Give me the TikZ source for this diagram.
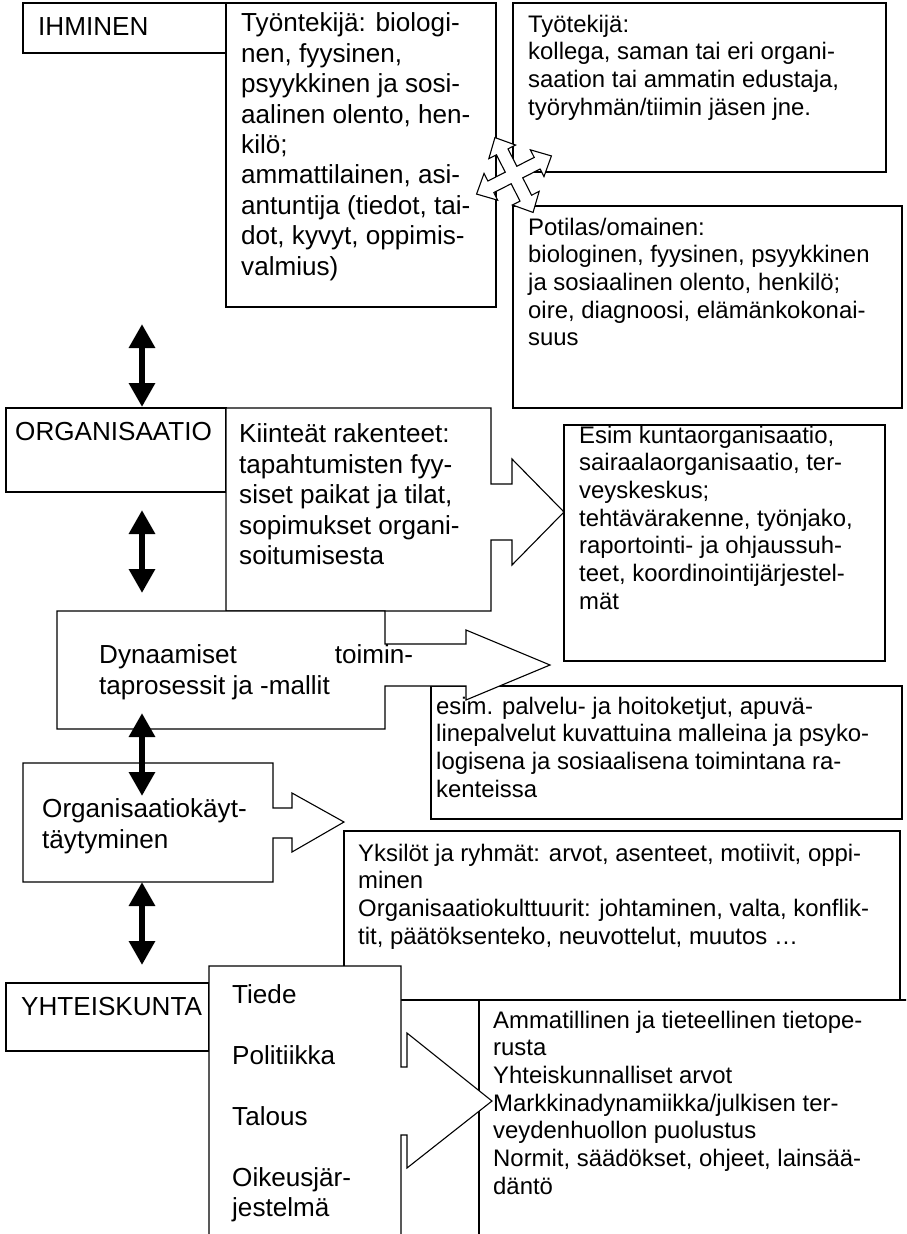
\documentclass[tikz,border=0pt]{standalone}
\usepackage{fontspec}
\setmainfont{Liberation Sans}
\usetikzlibrary{arrows.meta}

\begin{document}
\begin{tikzpicture}[x=1pt,y=-1pt,
  box/.style={draw=black,fill=white,line width=1.1pt,line join=miter},
  bigtext/.style={font=\fontsize{26.1}{30.4}\selectfont,anchor=north west,inner sep=0pt,align=left,execute at begin node=\strut},
  smalltext/.style={font=\fontsize{23.9}{27.7}\selectfont,anchor=north west,inner sep=0pt,align=left,execute at begin node=\strut},
  link/.style={line width=6pt,{Triangle[length=24pt,width=25pt]}-{Triangle[length=24pt,width=25pt]}}]
\fill[white] (0,0) rectangle (906,1234);
\useasboundingbox (0,0) rectangle (906,1234);
\clip (0,0) rectangle (906,1234);
\draw[box] (23,3) rectangle (226,53);
\draw[box] (226,3) rectangle (496,307);
\draw[box] (513,3) rectangle (886,172);
\draw[box] (513,206) rectangle (902,408);
\draw[box] (6,408) rectangle (226,492);
\draw[box] (564,425) rectangle (885,661);
\draw[box] (226,408) -- (491,408) -- (491,484) -- (512,484) -- (512,459) -- (564,512) -- (512,565) -- (512,540) -- (491,540) -- (491,611) -- (226,611) -- cycle;
\draw[box] (431,686) rectangle (902,819);
\draw[box] (57,611) -- (385,611) -- (385,644) -- (466,644) -- (466,630) -- (550,665) -- (466,700) -- (466,686) -- (385,686) -- (385,729) -- (57,729) -- cycle;
\draw[box] (344,831) rectangle (900,1000);
\draw[box] (23,763) -- (273,763) -- (273,808) -- (292,808) -- (292,793) -- (344,822) -- (292,852) -- (292,838) -- (273,838) -- (273,882) -- (23,882) -- cycle;
\draw[box] (479,1000) rectangle (912,1240);
\draw[box] (6,983) rectangle (209,1051);
\draw[box] (209,966) -- (401,966) -- (401,1067) -- (407,1067) -- (407,1033) -- (492,1101) -- (407,1168) -- (407,1135) -- (401,1135) -- (401,1240) -- (209,1240) -- cycle;
\coordinate (ihmA) at (142,324);
\coordinate (orgA) at (142,407);
\coordinate (orgB) at (142,510);
\coordinate (dynA) at (142,593);
\coordinate (dynB) at (142,713);
\coordinate (okA) at (142,796);
\coordinate (okB) at (142,882);
\coordinate (yhtA) at (142,965);
\draw[link] (ihmA) -- (orgA);
\draw[link] (orgB) -- (dynA);
\draw[link] (dynB) -- (okA);
\draw[link] (okB) -- (yhtA);
\draw[box,shift={(514,175)},rotate=27] (6.5,-6.5) -- (26,-6.5) -- (26,-15) -- (42,0) -- (26,15) -- (26,6.5) -- (6.5,6.5) -- (6.5,26) -- (15,26) -- (0,42) -- (-15,26) -- (-6.5,26) -- (-6.5,6.5) -- (-26,6.5) -- (-26,15) -- (-42,0) -- (-26,-15) -- (-26,-6.5) -- (-6.5,-6.5) -- (-6.5,-26) -- (-15,-26) -- (0,-42) -- (15,-26) -- (6.5,-26) -- cycle;
\node[bigtext] (ihminen) at (38,13.7) {IHMINEN};
\node[bigtext] (tyontekija) at (241,12.7) {Työntekijä: biologi-\\nen, fyysinen,\\psyykkinen ja sosi-\\aalinen olento, hen-\\kilö;\\ammattilainen, asi-\\antuntija (tiedot, tai-\\dot, kyvyt, oppimis-\\valmius)};
\node[smalltext] (kollega) at (528,14.6) {Työtekijä:\\kollega, saman tai eri organi-\\saation tai ammatin edustaja,\\työryhmän/tiimin jäsen jne.};
\node[smalltext] (potilas) at (528,217.6) {Potilas/omainen:\\biologinen, fyysinen, psyykkinen\\ja sosiaalinen olento, henkilö;\\oire, diagnoosi, elämänkokonai-\\suus};
\node[bigtext] (organisaatio) at (15,418.7) {ORGANISAATIO};
\node[bigtext] (kiinteat) at (239,423.7) {Kiinteät rakenteet:\\tapahtumisten fyy-\\siset paikat ja tilat,\\sopimukset organi-\\soitumisesta};
\node[smalltext] (rakenne) at (579,425.6) {Esim kuntaorganisaatio,\\sairaalaorganisaatio, ter-\\veyskeskus;\\tehtävärakenne, työnjako,\\raportointi- ja ohjaussuh-\\teet, koordinointijärjestel-\\mät};
\node[bigtext] (dynaamiset) at (99,644.7) {\makebox[314pt][s]{Dynaamiset toimin-}\\taprosessit ja -mallit};
\node[smalltext] (ketjut) at (436,696.6) {esim. palvelu- ja hoitoketjut, apuvä-\\linepalvelut kuvattuina malleina ja psyko-\\logisena ja sosiaalisena toimintana ra-\\kenteissa};
\node[bigtext] (kayttaytyminen) at (42,798.7) {Organisaatiokäyt-\\täytyminen};
\node[smalltext] (yksilot) at (358,843.6) {Yksilöt ja ryhmät: arvot, asenteet, motiivit, oppi-\\minen\\Organisaatiokulttuurit: johtaminen, valta, konflik-\\tit, päätöksenteko, neuvottelut, muutos …};
\node[bigtext] (yhteiskunta) at (21,993.7) {YHTEISKUNTA};
\node[bigtext] (tiede) at (232,984.7) {Tiede\\[30.4pt]Politiikka\\[30.4pt]Talous\\[30.4pt]Oikeusjär-\\jestelmä};
\node[smalltext] (tietoperusta) at (493,1010.6) {Ammatillinen ja tieteellinen tietope-\\rusta\\Yhteiskunnalliset arvot\\Markkinadynamiikka/julkisen ter-\\veydenhuollon puolustus\\Normit, säädökset, ohjeet, lainsää-\\däntö};
\end{tikzpicture}
\end{document}
